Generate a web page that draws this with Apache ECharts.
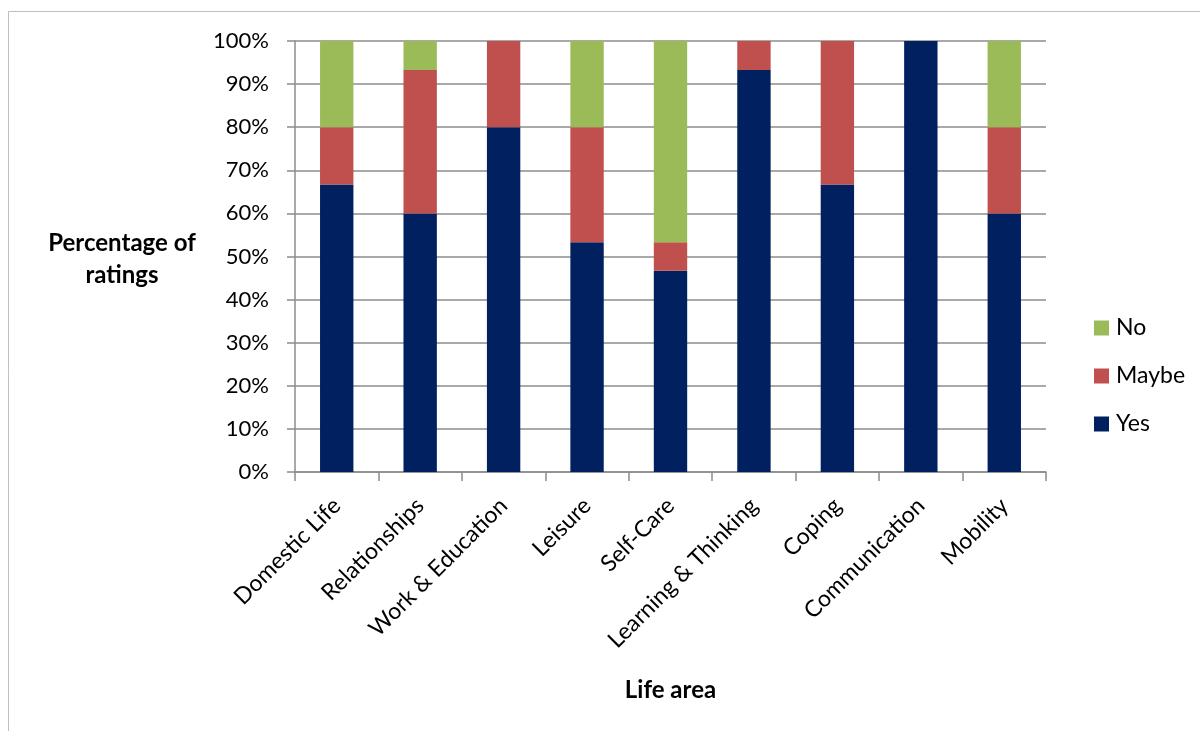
<!DOCTYPE html>
<html>
<head>
<meta charset="utf-8">
<script src="https://cdn.jsdelivr.net/npm/echarts@6/dist/echarts.min.js"></script>
<style>
  html, body { margin: 0; padding: 0; background: #fff; }
  #chart { width: 1200px; height: 731px; }
</style>
</head>
<body>
<div id="chart"></div>
<script>
// Life areas on the x axis
const categories = ['Domestic Life', 'Relationships', 'Work & Education', 'Leisure', 'Self-Care',
  'Learning & Thinking', 'Coping', 'Communication', 'Mobility'];
// Share of ratings (%) per answer
const yesValues   = [66.7, 60.0, 80.0, 53.3, 46.7, 93.3, 66.7, 100.0, 60.0];
const maybeValues = [13.3, 33.3, 20.0, 26.7, 6.6, 6.7, 33.3, 0, 20.0];
const noValues    = [20.0, 6.7, 0, 20.0, 46.7, 0, 0, 0, 20.0];

const FONT = 'Lato, "Open Sans", sans-serif';
const chart = echarts.init(document.getElementById('chart'), null, { renderer: 'canvas' });

chart.setOption({
  animation: false,
  backgroundColor: '#ffffff',
  textStyle: { fontFamily: FONT },
  graphic: [{
    type: 'rect',
    shape: { x: 8.5, y: 11.5, width: 1300, height: 900 },
    style: { fill: 'none', stroke: '#bfbfbf', lineWidth: 1 },
    silent: true,
    z: -10
  }, {
    type: 'text',
    x: 122, y: 259,
    style: {
      text: 'Percentage of\nratings',
      font: 'bold 24px ' + FONT,
      fill: '#000',
      align: 'center',
      verticalAlign: 'middle',
      lineHeight: 32
    }
  }],
  grid: { left: 295, right: 154, top: 41, bottom: 259, containLabel: false },
  legend: {
    orient: 'vertical',
    left: 1089,
    top: 311,
    itemWidth: 15,
    itemHeight: 15,
    itemGap: 24,
    icon: 'rect',
    data: ['No', 'Maybe', 'Yes'],
    textStyle: { fontSize: 23, lineHeight: 24, fontFamily: FONT, color: '#000', padding: [0, 0, 0, 2] }
  },
  xAxis: {
    type: 'category',
    data: categories,
    name: 'Life area',
    nameLocation: 'middle',
    nameGap: 206,
    nameTextStyle: { fontSize: 24, fontWeight: 'bold', color: '#000', fontFamily: FONT },
    axisLine: { lineStyle: { color: '#8c8c8c', width: 1.5 } },
    axisTick: { show: true, length: 9, lineStyle: { color: '#8c8c8c', width: 1.5 } },
    axisLabel: { rotate: 45, fontSize: 23, color: '#000', margin: 30, interval: 0, fontFamily: FONT }
  },
  yAxis: {
    type: 'value',
    min: 0, max: 100, interval: 10,
    axisLine: { show: true, lineStyle: { color: '#8c8c8c', width: 1.5 } },
    axisTick: { show: true, length: 8, lineStyle: { color: '#8c8c8c', width: 1.5 } },
    axisLabel: { formatter: '{value}%', fontSize: 22, color: '#000', margin: 26, fontFamily: FONT },
    splitLine: { lineStyle: { color: '#8c8c8c', width: 1.5 } }
  },
  series: [
    { name: 'Yes', type: 'bar', stack: 'r', data: yesValues, barWidth: '40%',
      itemStyle: { color: '#002060' } },
    { name: 'Maybe', type: 'bar', stack: 'r', data: maybeValues, barWidth: '40%',
      itemStyle: { color: '#c0504d' } },
    { name: 'No', type: 'bar', stack: 'r', data: noValues, barWidth: '40%',
      itemStyle: { color: '#9bbb59' } }
  ]
});
</script>
</body>
</html>
